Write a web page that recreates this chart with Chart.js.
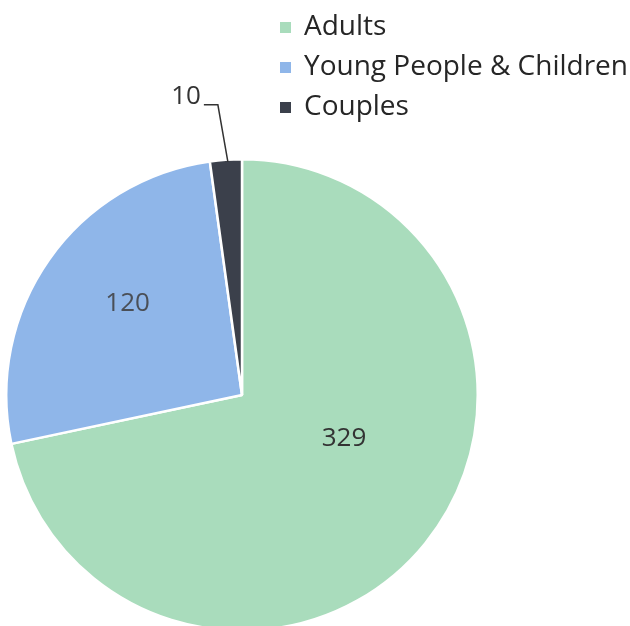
<!DOCTYPE html>
<html>
<head>
<meta charset="utf-8">
<script src="https://cdn.jsdelivr.net/npm/chart.js@4"></script>
<style>
  html, body { margin: 0; padding: 0; background: #fff; overflow: hidden; }
  #wrap { position: relative; width: 630px; height: 660px; }
  #legend { position: absolute; left: 280px; top: 4px; font-family: "Open Sans", sans-serif; font-size: 28px; color: #262626; }
  #legend div { height: 40px; line-height: 40px; white-space: nowrap; }
  #legend span { display: inline-block; width: 11px; height: 11px; margin-right: 13px; vertical-align: 2px; }
</style>
</head>
<body>
<div id="wrap">
  <canvas id="chart"></canvas>
  <div id="legend"></div>
</div>
<script>
const labels = ['Adults', 'Young People & Children', 'Couples'];
const values = [329, 120, 10];
const colors = ['#a9dcbc', '#8fb6e9', '#3b404b'];

const legend = document.getElementById('legend');
labels.forEach((l, i) => {
    const row = document.createElement('div');
    row.innerHTML = '<span style="background:' + colors[i] + '"></span>' + l;
    legend.appendChild(row);
});

// value labels: inside for big slices, with a leader line for the small one
const sliceLabels = {
    id: 'sliceLabels',
    afterDatasetsDraw(chart) {
        const c = chart.ctx;
        const arcs = chart.getDatasetMeta(0).data;
        c.save();
        c.font = '26px "Open Sans", sans-serif';
        c.fillStyle = '#333';
        c.textBaseline = 'middle';
        c.textAlign = 'center';
        arcs.forEach((arc, i) => {
            const p = arc.getProps(['x', 'y', 'startAngle', 'endAngle', 'outerRadius']);
            let mid = (p.startAngle + p.endAngle) / 2;
            if (i === 0) {
                mid -= 0.28;
                c.fillText(values[i], p.x + Math.cos(mid) * p.outerRadius * 0.47, p.y + Math.sin(mid) * p.outerRadius * 0.47);
            } else if (i === 1) {
                mid += 0.06;
                c.fillStyle = '#4a4f57';
                c.fillText(values[i], p.x + Math.cos(mid) * p.outerRadius * 0.62, p.y + Math.sin(mid) * p.outerRadius * 0.62);
            } else {
                const sx = p.x + Math.cos(mid) * p.outerRadius;
                const sy = p.y + Math.sin(mid) * p.outerRadius;
                c.strokeStyle = '#333';
                c.lineWidth = 1.5;
                c.beginPath();
                c.moveTo(sx + 2, sy + 2);
                c.lineTo(sx - 8, sy - 55);
                c.lineTo(sx - 22, sy - 55);
                c.stroke();
                c.fillStyle = '#333';
                c.textAlign = 'right';
                c.fillText(values[i], sx - 25, sy - 63);
            }
        });
        c.restore();
    }
};

new Chart(document.getElementById('chart'), {
    type: 'pie',
    data: {
        labels: labels,
        datasets: [{
            data: values,
            backgroundColor: colors,
            borderColor: '#fff',
            borderWidth: 2.5
        }]
    },
    options: {
        responsive: true,
        maintainAspectRatio: false,
        animation: false,
        layout: { padding: { left: 5, right: 151, top: 158, bottom: 28 } },
        plugins: {
            legend: { display: false },
            tooltip: { enabled: false }
        }
    },
    plugins: [sliceLabels]
});
</script>
</body>
</html>
